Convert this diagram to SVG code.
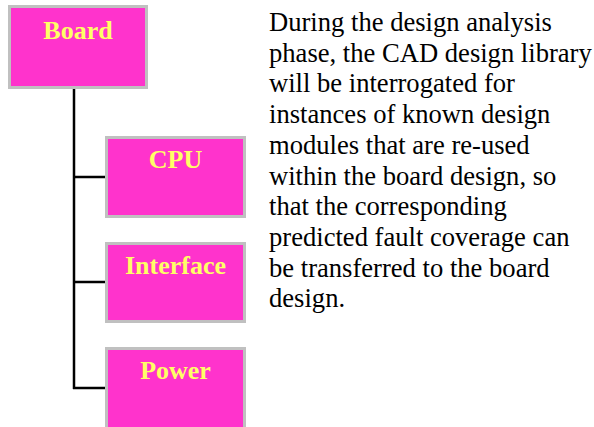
<svg xmlns="http://www.w3.org/2000/svg" width="594" height="427" viewBox="0 0 594 427">
<style>
.box{fill:#ff33cc;stroke:#c0c0c0;stroke-width:3}
.lbl{font-weight:bold;font-size:26px;fill:#ffff66;text-anchor:middle}
.conn{stroke:#000;stroke-width:2.5;fill:none}
.desc{font-size:26.6px;fill:#000}
</style>
<rect width="594" height="427" fill="#fff"/>
<g id="connectors">
<path class="conn" d="M74,89 V389 M73,177 H106 M73,282 H106 M73,388 H106"/>
</g>
<g font-family="Liberation Serif, Times New Roman, serif">
<g id="board"><rect class="box" x="9.5" y="6.5" width="137" height="81"/><text class="lbl" x="78" y="39">Board</text></g>
<g id="cpu"><rect class="box" x="106.5" y="137.5" width="138" height="79"/><text class="lbl" x="175.5" y="168">CPU</text></g>
<g id="interface"><rect class="box" x="106.5" y="243.5" width="138" height="78"/><text class="lbl" x="175.5" y="274">Interface</text></g>
<g id="power"><rect class="box" x="106.5" y="348.5" width="138" height="100"/><text class="lbl" x="175.5" y="379">Power</text></g>
<g id="description" class="desc">
<text x="269" y="31">During the design analysis</text>
<text x="269" y="61.7">phase, the CAD design library</text>
<text x="269" y="92.4">will be interrogated for</text>
<text x="269" y="123">instances of known design</text>
<text x="269" y="153.8">modules that are re-used</text>
<text x="269" y="184.5">within the board design, so</text>
<text x="269" y="215.2">that the corresponding</text>
<text x="269" y="246">predicted fault coverage can</text>
<text x="269" y="276.6">be transferred to the board</text>
<text x="269" y="307.3">design.</text>
</g>
</g>
</svg>
